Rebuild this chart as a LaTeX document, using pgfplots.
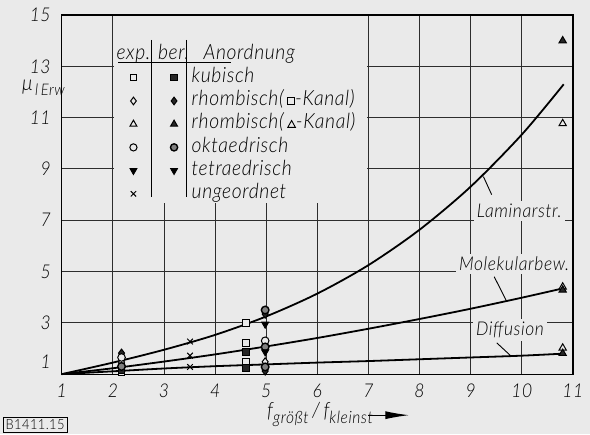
\documentclass[border=0pt]{standalone}
\usepackage{pgfplots}
\pgfplotsset{compat=1.18}
\usepackage{fontspec}
\setmainfont{Lato}[UprightFont=* Light, ItalicFont=* Light Italic, FakeStretch=0.92, LetterSpace=3]
\usetikzlibrary{arrows.meta}
\definecolor{paper}{RGB}{234,234,234}
\definecolor{gridc}{RGB}{45,45,45}
\newcommand{\lf}{\fontsize{9.5}{11}\selectfont\itshape}
\newcommand{\legf}{\fontsize{10.5}{12}\selectfont\itshape}
\pgfplotsset{
  expm/.style={only marks, mark options={solid, draw=black, fill=paper, line width=0.5pt}},
  berm/.style={only marks, mark options={solid, draw=black, fill=black!85, line width=0.5pt}},
  berc/.style={only marks, mark options={solid, draw=black, fill=black!50, line width=0.7pt}},
  leftimg/.style={legend image code/.code={\path (0pt,0pt) (18pt,0pt); \draw[##1] plot coordinates {(9pt,0pt)};}},
  rightimg/.style={legend image code/.code={\path (0pt,0pt) (18.5pt,0pt); \draw[##1] plot coordinates {(9.9pt,0pt)};}},
}
\begin{document}
\begin{tikzpicture}
\fill[paper] (-30.85pt,-30pt) rectangle (264pt,187pt);
\begin{axis}[
  x=25.55pt, y=12.82pt,
  xmin=1, xmax=11, ymin=1, ymax=15,
  xtick={1,...,11}, ytick={1,3,...,15},
  yticklabels={\raisebox{12pt}{1},3,5,7,9,11,13,15},
  grid=major,
  major grid style={gridc, line width=0.45pt},
  axis line style={black, line width=0.6pt},
  major tick length=0pt,
  tick label style={font=\lf},
  /pgf/number format/assume math mode=true,
  xticklabel style={yshift=-1.5pt},
  yticklabel style={xshift=-2pt},
  clip=false,
  legend columns=2,
  legend cell align=left,
  legend style={at={(axis cs:2.043,13.85)}, anchor=north west, draw=none, fill=none,
    inner sep=0pt, outer sep=0pt, column sep=0pt, row sep=1.6pt,
    nodes={inner sep=0pt, text height=7.4pt, text depth=2.6pt, font=\legf}},
]
% ---- legend entries ----
\addlegendimage{legend image code/.code={\path (0pt,0pt) (18pt,0pt); \node[anchor=center] at (9pt,0pt) {exp.};}}
\addlegendentry{\hbox{}}
\addlegendimage{legend image code/.code={\path (0pt,0pt) (18.5pt,0pt); \node[anchor=center] at (9.6pt,0pt) {ber.};}}
\addlegendentry{\hspace*{6pt}Anordnung}
\addlegendimage{leftimg, expm, mark=square*, mark size=1.6pt}
\addlegendentry{\hbox{}}
\addlegendimage{rightimg, berm, mark=square*, mark size=1.6pt}
\addlegendentry{kubisch}
\addlegendimage{leftimg, expm, mark=diamond*, mark size=1.9pt}
\addlegendentry{\hbox{}}
\addlegendimage{rightimg, berm, mark=diamond*, mark size=1.9pt}
\addlegendentry{rhombisch(\,\raisebox{0.6pt}{\tikz\draw[line width=0.45pt] (0,0) rectangle (3.4pt,3.4pt);}-Kanal)}
\addlegendimage{leftimg, expm, mark=triangle*, mark size=2pt}
\addlegendentry{\hbox{}}
\addlegendimage{rightimg, berm, mark=triangle*, mark size=2pt}
\addlegendentry{rhombisch(\,\raisebox{0.6pt}{\tikz\draw[line width=0.45pt] (0,0) -- (3.8pt,0) -- (1.9pt,3.4pt) -- cycle;}-Kanal)}
\addlegendimage{leftimg, expm, mark=*, mark size=1.8pt}
\addlegendentry{\hbox{}}
\addlegendimage{rightimg, berc, mark=*, mark size=1.8pt}
\addlegendentry{oktaedrisch}
\addlegendimage{leftimg, expm, mark=triangle*, mark size=2pt, mark options={rotate=180}}
\addlegendentry{\hbox{}}
\addlegendimage{rightimg, berm, mark=triangle*, mark size=2pt, mark options={rotate=180}}
\addlegendentry{tetraedrisch}
\addlegendimage{leftimg, expm, mark=x, mark size=1.9pt}
\addlegendentry{\hbox{}}
\addlegendimage{legend image code/.code={\path (0pt,0pt) (18.5pt,0pt);}}
\addlegendentry{ungeordnet}

% ---- paper area behind legend ----
\fill[paper] (axis cs:2.02,14.98) rectangle (axis cs:6.98,7.67);
\draw[line width=0.5pt] (axis cs:2.104,13.14) -- (axis cs:4.313,13.14);
\draw[line width=0.5pt] (axis cs:2.761,14.03) -- (axis cs:2.761,7.91);
\draw[line width=0.5pt] (axis cs:3.44,14.03) -- (axis cs:3.44,7.91);

% ---- curves ----
\addplot[black, line width=0.9pt, smooth, forget plot] coordinates {
 (1,1) (2,1.45) (3,1.95) (4,2.53) (5,3.25) (6,4.14) (7,5.25) (8,6.63) (9,8.31) (10,10.34) (10.82,12.3)};
\addplot[black, line width=0.9pt, smooth, forget plot] coordinates {
 (1,1) (2,1.23) (3,1.49) (4,1.77) (5,2.08) (6,2.41) (7,2.77) (8,3.15) (9,3.55) (10,3.98) (10.82,4.35)};
\addplot[black, line width=0.9pt, smooth, forget plot] coordinates {
 (1,1) (2,1.11) (3,1.22) (4,1.31) (5,1.38) (6,1.45) (7,1.51) (8,1.58) (9,1.65) (10,1.72) (10.82,1.8)};

% ---- measured / calculated points ----
% kubisch
\addplot[expm, mark=square*, mark size=1.7pt, forget plot] coordinates {(2.17,1.08) (4.6,3.0) (4.6,2.2) (4.6,1.48)};
\addplot[berm, mark=square*, mark size=1.7pt, forget plot] coordinates {(2.17,1.17) (4.6,1.86) (4.6,1.25)};
% rhombisch (square channel)
\addplot[expm, mark=diamond*, mark size=2pt, forget plot] coordinates {(2.17,1.47) (4.98,1.48)};
\addplot[berm, mark=diamond*, mark size=2pt, forget plot] coordinates {(2.17,1.82) (4.98,3.34) (4.98,1.12)};
% rhombisch (triangle channel)
\addplot[expm, mark=triangle*, mark size=2.1pt, forget plot] coordinates {(10.8,10.77) (10.8,4.4) (10.8,2.02)};
\addplot[berm, mark=triangle*, mark size=2.1pt, forget plot] coordinates {(10.8,14.0) (10.8,4.28) (10.8,1.81)};
% oktaedrisch
\addplot[expm, mark=*, mark size=1.9pt, forget plot] coordinates {(2.17,1.65) (4.98,2.3)};
\addplot[berc, mark=*, mark size=1.9pt, forget plot] coordinates {(2.17,1.3) (4.98,3.5) (4.98,2.06) (4.98,1.28)};
% tetraedrisch
\addplot[expm, mark=triangle*, mark size=2.1pt, mark options={rotate=180}, forget plot] coordinates {(4.98,2.95)};
\addplot[berm, mark=triangle*, mark size=2.1pt, mark options={rotate=180}, forget plot] coordinates {(4.98,1.87)};
% ungeordnet
\addplot[expm, mark=x, mark size=2pt, forget plot] coordinates {(3.51,2.27) (3.51,1.72) (3.51,1.28)};

% ---- curve labels ----
\node[fill=paper, inner sep=1.5pt, font=\lf] at (axis cs:9.95,7.35) {Laminarstr.};
\draw[line width=0.45pt] (axis cs:9.41,8.0) -- (axis cs:9.25,8.7);
\node[fill=paper, inner sep=1.5pt, font=\lf] at (axis cs:9.85,5.3) {Molekularbew.};
\draw[line width=0.45pt] (axis cs:9.46,4.8) -- (axis cs:9.7,3.85);
\node[fill=paper, inner sep=1.5pt, font=\lf] at (axis cs:9.77,2.72) {Diffusion};
\draw[line width=0.45pt] (axis cs:9.51,2.22) -- (axis cs:9.77,1.74);

% ---- axis labels ----
\node[anchor=base west, font=\fontsize{10.5}{12}\selectfont\itshape] at (axis cs:0.086,12.04)
  {μ\raisebox{-2.5pt}{\fontsize{8}{9}\selectfont\itshape\,l\,Erw}};
\node[anchor=base west, font=\fontsize{10.5}{12}\selectfont\itshape] at (axis cs:4.88,-0.68)
  {f\raisebox{-3pt}{\fontsize{8.5}{9}\selectfont\itshape größt}\,/\,f\raisebox{-3pt}{\fontsize{8.5}{9}\selectfont\itshape kleinst}};
\draw[line width=0.6pt, -{Latex[length=12pt, width=4pt]}] (axis cs:7.0,-0.6) -- (axis cs:7.8,-0.6);
\node[draw, line width=0.5pt, inner sep=1.2pt, font=\fontsize{7}{8}\selectfont] at (axis cs:0.48,-0.97) {B1411.15};
\end{axis}
\end{tikzpicture}
\end{document}
